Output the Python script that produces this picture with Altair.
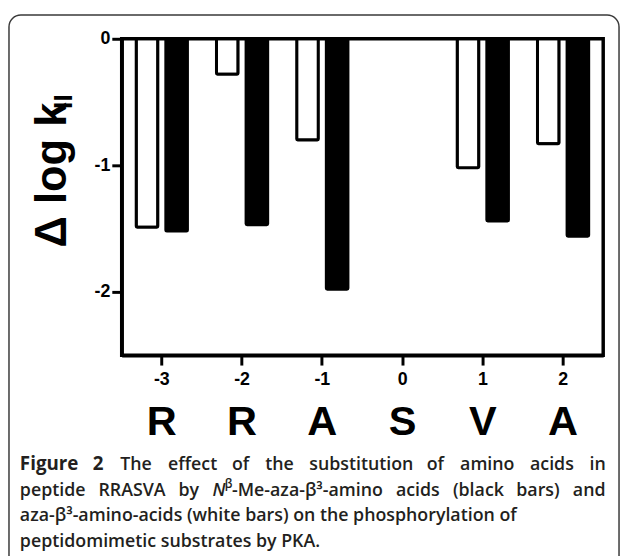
import altair as alt
import pandas as pd

# ---- data ----
positions = ["-3", "-2", "-1", "0", "1", "2"]
residues = ["R", "R", "A", "S", "V", "A"]
white_bars = [-1.49, -0.28, -0.80, None, -1.02, -0.83]   # aza-beta3-amino acids
black_bars = [-1.52, -1.47, -1.98, None, -1.44, -1.56]   # N-beta-Me-aza-beta3-amino acids
y_ticks = [0, -1, -2]

rows = []
for p, w, b in zip(positions, white_bars, black_bars):
    if w is not None:
        rows.append({"pos": p, "series": "white", "value": w})
    if b is not None:
        rows.append({"pos": p, "series": "black", "value": b})
bars_df = pd.DataFrame(rows)
res_df = pd.DataFrame({"pos": positions, "res": residues})
one = pd.DataFrame({"a": [0]})

FONT = "Liberation Sans"
CAP = "Open Sans"
CAPCOL = "#231f20"

x_scale = alt.Scale(domain=positions, paddingInner=0, paddingOuter=0)

bars = alt.Chart(bars_df).mark_bar(stroke="black", strokeWidth=3, cornerRadius=1).encode(
    x=alt.X("pos:N", scale=x_scale, sort=positions,
            axis=alt.Axis(title="", labelAngle=0, labelFont=FONT, labelFontSize=18,
                          labelFontWeight="bold", labelColor="black", labelPadding=6,
                          tickSize=10, tickWidth=3, tickColor="black",
                          domainWidth=3.5, domainColor="black", grid=False)),
    xOffset=alt.XOffset("series:N", sort=["white", "black"],
                        scale=alt.Scale(paddingInner=0.27, paddingOuter=0.49)),
    y=alt.Y("value:Q", scale=alt.Scale(domain=[-2.5, 0], nice=False),
            axis=alt.Axis(title="", values=y_ticks, labelExpr="'' + datum.value",
                          labelFont=FONT, labelFontSize=18, labelFontWeight="bold",
                          labelColor="black", labelPadding=2, tickSize=10, tickWidth=3,
                          tickColor="black", domainWidth=3.5, domainColor="black",
                          grid=False)),
    color=alt.Color("series:N", scale=alt.Scale(domain=["white", "black"],
                                                range=["white", "black"]), legend=None),
)

letters = alt.Chart(res_df).mark_text(font=FONT, fontSize=42, fontWeight="bold",
                                      baseline="alphabetic", align="center",
                                      color="black").encode(
    x=alt.X("pos:N", scale=x_scale, sort=positions, axis=None),
    y=alt.value(401),
    text="res:N",
)

def txt(s, x, y, **kw):
    base = dict(align="left", baseline="alphabetic")
    base.update(kw)
    return alt.Chart(one).mark_text(text=s, **base).encode(x=alt.value(x), y=alt.value(y))

ytitle = txt("Δ log k", -56, 211, angle=270, font=FONT, fontSize=44,
             fontWeight="bold", color="black")
ysub = txt("II", -50, 71, angle=270, font=FONT, fontSize=27,
           fontWeight="bold", color="black")

# ---- caption (justified lines laid out word by word) ----
W = {'a': 556, 'b': 613, 'c': 480, 'd': 613, 'e': 561, 'f': 336, 'g': 546, 'h': 614,
     'i': 252, 'j': 252, 'k': 529, 'l': 252, 'm': 931, 'n': 614, 'o': 601, 'p': 613,
     'q': 613, 'r': 409, 's': 478, 't': 353, 'u': 614, 'v': 501, 'w': 775, 'x': 524,
     'y': 501, 'z': 463, ' ': 260, 'A': 633, 'B': 647, 'C': 631, 'D': 729, 'E': 556,
     'F': 516, 'K': 599, 'M': 907, 'N': 754, 'P': 603, 'R': 618, 'S': 549, 'T': 556,
     'V': 592, '(': 296, ')': 296, '-': 322, '.': 266, '2': 572, '3': 572, 'β': 600,
     '³': 380}

def width(s, fs, f=1.02):
    return sum(W.get(c, 560) for c in s) * fs / 1000 * f

FS = 18
X0, XR = -103, 489          # caption left / right edge (page x 20 / 612)
Y1, Y2, Y3, Y4 = 436, 462, 488, 514

# each word: list of pieces (text, style); styles: n=semibold, b=bold, i=italic, s=superscript
line1 = [[("Figure", "b")], [("2", "b")]] + [[(w, "n")] for w in
         "The effect of the substitution of amino acids in".split()]
line2 = [[(w, "n")] for w in "peptide RRASVA by".split()] + \
        [[("N", "i"), ("β", "s"), ("-Me-aza-β³-amino", "n")]] + \
        [[(w, "n")] for w in "acids (black bars) and".split()]

SIZE = {"n": FS, "b": 19, "i": FS, "s": 12}
FAC = {"n": 1.02, "b": 1.04, "i": 0.92, "s": 1.0}

recs = []
def justify(words, y):
    wsum = [sum(width(t, SIZE[st], FAC[st]) for t, st in wd) for wd in words]
    gap = (XR - X0 - sum(wsum)) / (len(words) - 1)
    x = X0
    for wd, ww in zip(words, wsum):
        xx = x
        for t, st in wd:
            recs.append({"t": t, "x": xx, "y": y - (8 if st == "s" else 0), "st": st})
            xx += width(t, SIZE[st], FAC[st])
        x += ww + gap

justify(line1, Y1)
justify(line2, Y2)
recs.append({"t": "aza-β³-amino-acids (white bars) on the phosphorylation of",
             "x": X0, "y": Y3, "st": "n"})
recs.append({"t": "peptidomimetic substrates by PKA.", "x": X0, "y": Y4, "st": "n"})
cap_df = pd.DataFrame(recs)

def cap_layer(st, **kw):
    return alt.Chart(cap_df).transform_filter(alt.datum.st == st).mark_text(
        align="left", baseline="alphabetic", font=CAP, color=CAPCOL,
        fontSize=SIZE[st], **kw).encode(
        x=alt.X("x:Q", scale=None), y=alt.Y("y:Q", scale=None), text="t:N")

caps = [cap_layer("n", fontWeight=600), cap_layer("b", fontWeight="bold"),
        cap_layer("i", fontWeight=600, fontStyle="italic"),
        cap_layer("s", fontWeight=600)]

border = alt.Chart(one).mark_rect(fill="transparent", stroke="#3a3a3a", strokeWidth=1.5,
                                  cornerRadius=12).encode(
    x=alt.value(-114), x2=alt.value(503), y=alt.value(-24), y2=alt.value(560))

chart = alt.layer(border, bars, letters, ytitle, ysub, *caps).properties(
    width=487, height=320,
    background="white",
    autosize=alt.AutoSizeParams(type="none"),
    padding={"left": 115, "top": 28, "right": 18, "bottom": 200},
).resolve_scale(x="independent", y="independent").configure_view(
    stroke="black", strokeWidth=3.5)

chart.save("out.html", embed_options={"renderer": "svg", "actions": False})
